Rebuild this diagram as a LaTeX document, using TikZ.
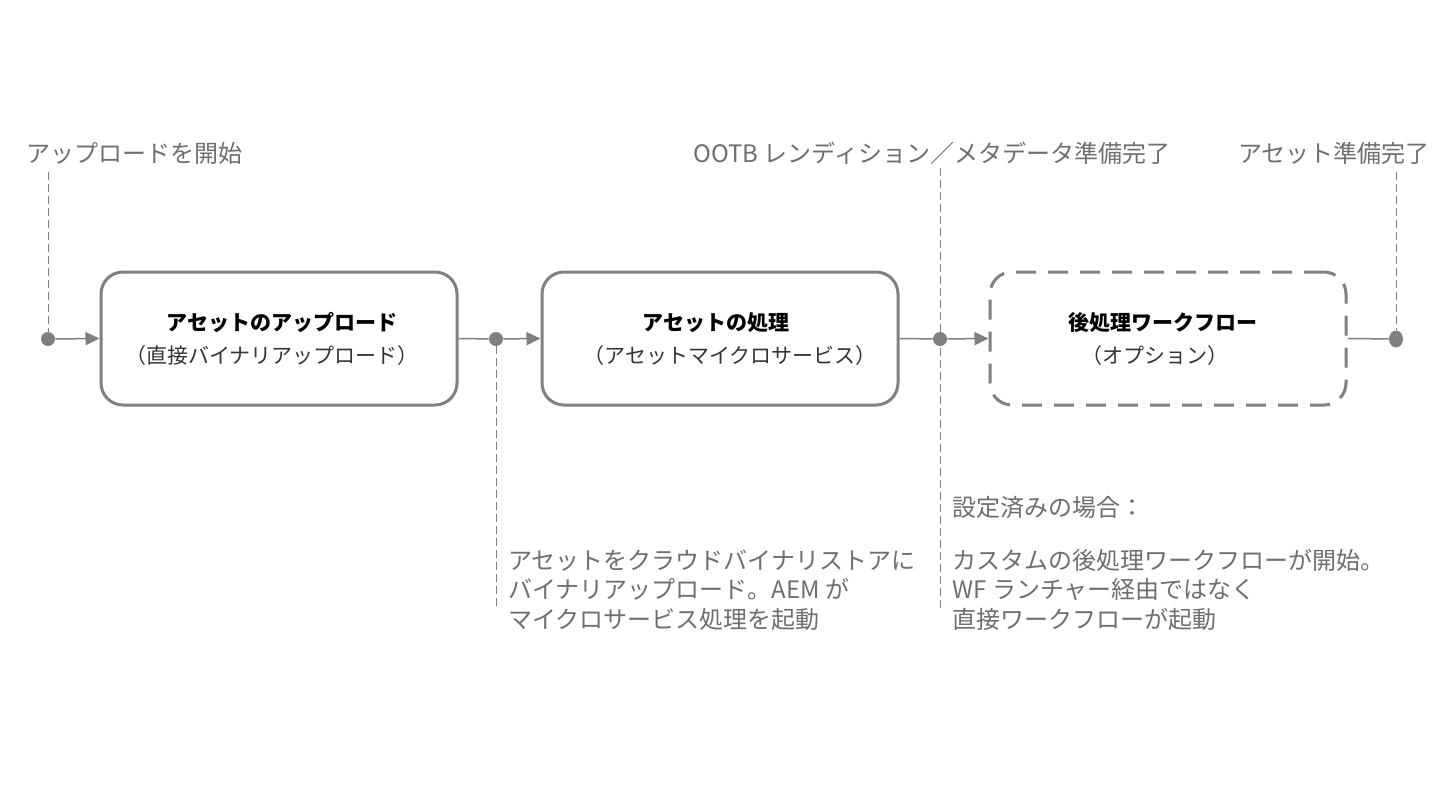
\documentclass[tikz,border=0pt]{standalone}
\usepackage{fontspec}
\setmainfont{Noto Sans CJK JP}
\usetikzlibrary{arrows.meta,shapes.geometric}
\definecolor{ln}{HTML}{808080}
\definecolor{tx}{HTML}{6E6E6E}
\begin{document}
\begin{tikzpicture}[x=0.5pt,y=-0.5pt,
  stepbox/.style={draw=ln,line width=1.5pt,rounded corners=11pt,minimum width=178pt,minimum height=66.5pt,inner sep=0pt},
  optbox/.style={stepbox,dash pattern=on 10pt off 6pt},
  dot/.style={circle,fill=ln,inner sep=0pt,minimum size=7pt},
  flow/.style={draw=ln,line width=0.75pt},
  arr/.style={flow,-{Triangle[length=7pt,width=6.5pt]}},
  guide/.style={draw=ln,line width=0.5pt,dash pattern=on 4pt off 2pt},
  lbl/.style={text=tx,font=\fontsize{12}{14.75}\selectfont,inner sep=0pt},
  ttl/.style={font=\fontsize{10.5}{12}\selectfont\bfseries,inner sep=0pt},
  sub/.style={text=black!80,font=\fontsize{10.5}{12}\selectfont,inner sep=0pt}]
\useasboundingbox (0,0) rectangle (1440,810);
% boxes
\node[stepbox] (b1) at (279,338.5) {};
\node[stepbox] (b2) at (720,338.5) {};
\node[optbox] (b3) at (1168,338.5) {};
\node[ttl] (t1) at (282,322) {アセットのアップロード};
\node[sub] (s1) at (272,356) {（直接バイナリアップロード）};
\node[ttl] (t2) at (716,323) {アセットの処理};
\node[sub] (s2) at (730,356) {（アセットマイクロサービス）};
\node[ttl] (t3) at (1163,323) {後処理ワークフロー};
\node[sub] (s3) at (1155,356) {（オプション）};
% dots
\node[dot] (d1) at (48,339) {};
\node[dot] (d2) at (496,339) {};
\node[dot] (d3) at (940,339) {};
\node[ellipse,fill=ln,inner sep=0pt,minimum height=8.5pt,minimum width=7pt] (d4) at (1396,339) {};
% guide ends
\coordinate (g1) at (48,172);
\coordinate (g2) at (496,610);
\coordinate (g3a) at (940,168);
\coordinate (g3b) at (940,610);
\coordinate (g4) at (1396,172);
\draw[guide] (g1) -- (d1);
\draw[guide] (d2) -- (g2);
\draw[guide] (g3a) -- (g3b);
\draw[guide] (g4) -- (d4);
% flow
\draw[arr] (d1) -- (b1.west);
\draw[flow] (b1.east) -- (d2);
\draw[arr] (d2) -- (b2.west);
\draw[flow] (b2.east) -- (d3);
\draw[arr] (d3) -- (b3.west);
\draw[flow] (b3.east) -- (d4);
% labels
\node[lbl,anchor=west] (l1) at (26,153) {アップロードを開始};
\node[lbl,anchor=west] (l2) at (693,153) {OOTB レンディション／メタデータ準備完了};
\node[lbl,anchor=east] (l3) at (1430,153) {アセット準備完了};
\node[lbl,anchor=north west,align=left] (n1) at (508,549) {アセットをクラウドバイナリストアに\\バイナリアップロード。AEM が\\マイクロサービス処理を起動};
\node[lbl,anchor=north west,align=left] (n2) at (952,496) {設定済みの場合：\\[11.5pt]カスタムの後処理ワークフローが開始。\\WF ランチャー経由ではなく\\直接ワークフローが起動};
\end{tikzpicture}
\end{document}
